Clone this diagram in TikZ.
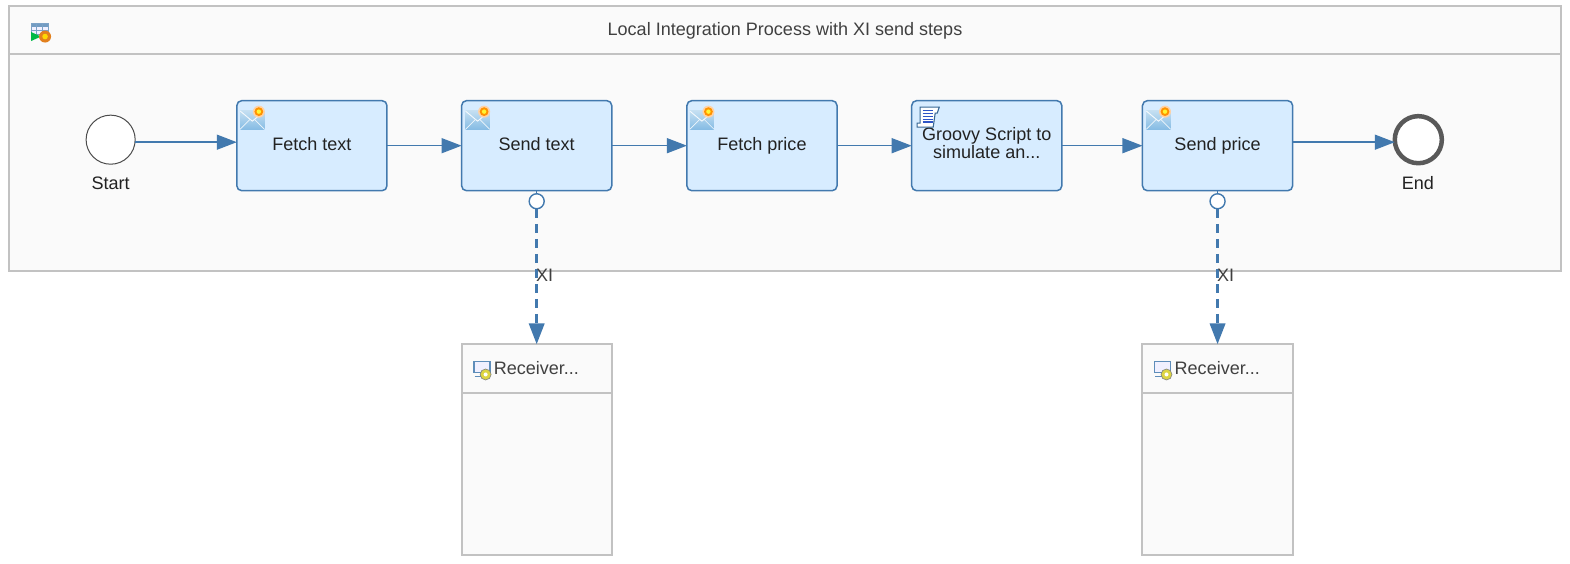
\documentclass[tikz,border=0pt]{standalone}
\usepackage{fontspec}
\setmainfont{Liberation Sans}
\usetikzlibrary{arrows.meta,calc}
\definecolor{flow}{HTML}{4279AE}
\definecolor{boxfill}{HTML}{D7ECFF}
\definecolor{poolline}{HTML}{C2C2C2}
\definecolor{poolfill}{HTML}{FAFAFA}
\definecolor{txt}{HTML}{222222}
\definecolor{mailtop}{HTML}{C6E0F2}
\definecolor{mailbot}{HTML}{86BCE4}
\tikzset{
  x=1pt,y=-1pt,
  stepbox/.style={draw=flow,fill=boxfill,line width=1.5pt,rounded corners=5pt,minimum width=150pt,minimum height=90pt,inner sep=0pt,outer sep=0pt,align=center,text=txt,font=\fontsize{18}{18}\selectfont},
  poolbox/.style={draw=poolline,fill=poolfill,line width=2pt},
  seqflow/.style={draw=flow,line width=1.4pt,-{Triangle[length=20pt,width=15pt,fill=flow]}},
  msgflow/.style={draw=flow,line width=3.5pt,dash pattern=on 9pt off 6pt,-{Triangle[length=21pt,width=15pt,fill=flow]}},
  caption/.style={font=\fontsize{18}{18}\selectfont,text=txt,inner sep=0pt},
  graytext/.style={font=\fontsize{18}{18}\selectfont,text=black!75,inner sep=0pt},
  port/.style={circle,draw=flow,fill=white,line width=1.4pt,minimum size=15pt,inner sep=0pt,outer sep=0pt},
}
\newcommand{\mailicon}[2]{%
  \begin{scope}[shift={(#1,#2)}]
    \shade[top color=mailtop,bottom color=mailbot] (0,7) rectangle (24,26);
    \draw[white!85!mailtop,line width=.9pt] (0,8) -- (12,18) -- (24,8);
    \draw[white!70!mailtop,line width=.7pt] (0,26) -- (10,16);
    \draw[white!70!mailtop,line width=.7pt] (24,26) -- (14,16);
    \fill[orange!35!white] (18.5,8.5) circle (6pt);
    \fill[orange!85!yellow] (18.5,8.5) circle (4.4pt);
    \fill[yellow!80!white] (18.5,8.5) circle (2.2pt);
  \end{scope}}
\newcommand{\monitoricon}[2]{%
  \begin{scope}[shift={(#1,#2)}]
    \draw[flow!85,line width=1.8pt,fill=blue!6] (0,0) rectangle (16,11);
    \draw[flow!85,line width=1.8pt] (1,15) -- (11,15);
    \fill[yellow!70!gray] (12,13) circle (5.5pt);
    \fill[white] (12,13) circle (2pt);
    \draw[gray,line width=.6pt] (12,13) circle (5.5pt);
  \end{scope}}
\begin{document}
\begin{tikzpicture}
\useasboundingbox (0,0) rectangle (1568,562.3);
\fill[white] (0,0) rectangle (1568,562.3);
% pool
\draw[poolbox] (9,6) rectangle (1559,271);
\draw[poolbox] (9,6) rectangle (1559,54);
\node[graytext] (title) at (784,30.5) {Local Integration Process with XI send steps};
% pool icon
\begin{scope}[shift={(31,23)}]
  \fill[flow!75] (0,0) rectangle (17,4);
  \fill[blue!6] (0,4) rectangle (17,11);
  \foreach \x in {5.5,11} \draw[flow!70,line width=.8pt] (\x,0) -- (\x,11);
  \draw[flow!70,line width=.8pt] (0,7.5) -- (17,7.5);
  \draw[flow!70,line width=.8pt] (0,0) rectangle (17,11);
  \fill[green!45!teal] (0,9) -- (0,18) -- (10,13.5) -- cycle;
  \fill[orange!55!brown] (14,13.5) circle (6pt);
  \fill[yellow!75!orange] (14,13.5) circle (2.8pt);
\end{scope}
% steps
\node[stepbox] (fetchtext) at (311.5,145.5) {\raisebox{2.5pt}{Fetch text}};
\node[stepbox] (sendtext) at (536,145.5) {\raisebox{2.5pt}{Send text}};
\node[stepbox] (fetchprice) at (761,145.5) {\raisebox{2.5pt}{Fetch price}};
\node[stepbox,text depth=4pt] (groovy) at (985.5,145.5) {\raisebox{2pt}{Groovy Script to}\\\raisebox{2pt}{simulate an...}};
\node[stepbox] (sendprice) at (1216,145.5) {\raisebox{2.5pt}{Send price}};
\mailicon{240}{103}
\mailicon{465}{103}
\mailicon{689}{103}
\mailicon{1145}{103}
% script icon
\begin{scope}[shift={(915,107)}]
  \draw[flow!85!black,line width=1.1pt,fill=white] (4,0) -- (23,0) -- (21,6) -- (19,6) -- (17,20) -- (1,20) -- (1,16) -- (4,16) -- cycle;
  \foreach \y in {3.5,6.5,9.5,12.5,15} \draw[flow!70!blue,line width=1.5pt] (6.5,\y) -- (17,\y);
\end{scope}
% events
\node[circle,draw=black!70,fill=white,line width=1pt,minimum size=49pt,inner sep=0pt,outer sep=0pt] (start) at (110.5,139.5) {};
\node[circle,draw=black!65,fill=white,line width=4.5pt,minimum size=47pt,inner sep=0pt,outer sep=0pt] (end) at (1416.5,139.5) {};
\node[caption] (startlabel) at (110.5,183) {Start};
\node[caption] (endlabel) at (1416,183) {End};
% receivers
\node[poolbox,minimum width=150pt,minimum height=210pt,inner sep=0pt,outer sep=0pt] (recv1) at (536,449) {};
\node[poolbox,minimum width=150pt,minimum height=210pt,inner sep=0pt,outer sep=0pt] (recv2) at (1216,449) {};
\draw[poolbox] (recv1.north west) rectangle ($(recv1.north east)+(0,48)$);
\draw[poolbox] (recv2.north west) rectangle ($(recv2.north east)+(0,48)$);
\monitoricon{473}{361}
\monitoricon{1153}{361}
\node[graytext,anchor=west] (r1label) at (493,368) {Receiver...};
\node[graytext,anchor=west] (r2label) at (1173,368) {Receiver...};
% sequence flows
\draw[seqflow] (start.east |- 0,142) -- (fetchtext.west |- 0,142);
\draw[seqflow] (fetchtext.east) -- (sendtext.west);
\draw[seqflow] (sendtext.east) -- (fetchprice.west);
\draw[seqflow] (fetchprice.east) -- (groovy.west);
\draw[seqflow] (groovy.east) -- (sendprice.west);
\draw[seqflow] (sendprice.east |- 0,142) -- (end.west |- 0,142);
% message flows
\node[port] (p1) at (536,201) {};
\node[port] (p2) at (1216,201) {};
\draw[flow,line width=1.4pt] (sendtext.south) -- (p1.north);
\draw[flow,line width=1.4pt] (sendprice.south) -- (p2.north);
\draw[msgflow] (p1.south) -- (recv1.north);
\draw[msgflow] (p2.south) -- (recv2.north);
\node[graytext] (xi1) at (544,275) {XI};
\node[graytext] (xi2) at (1224,275) {XI};
\end{tikzpicture}
\end{document}
